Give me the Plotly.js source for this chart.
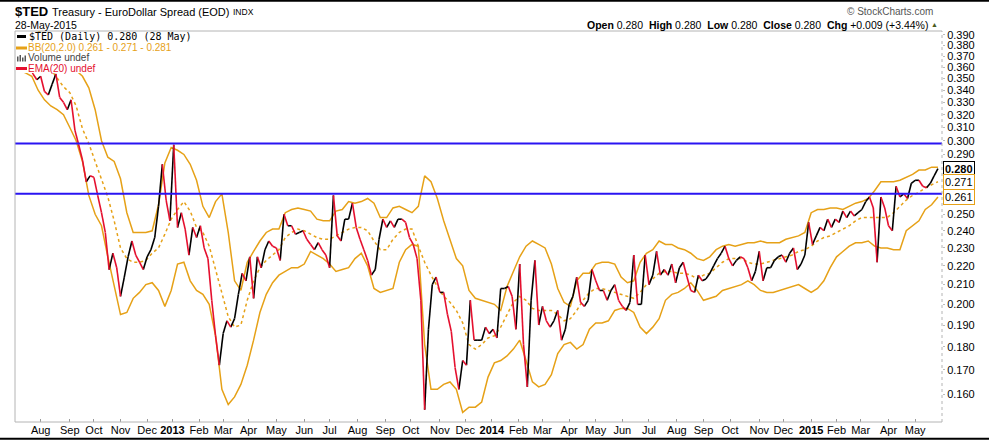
<!DOCTYPE html>
<html><head><meta charset="utf-8">
<script src="https://cdn.plot.ly/plotly-3.0.1.min.js"></script>
<style>html,body{margin:0;padding:0;background:#fff;}#chart{width:989px;height:440px;}</style>
</head><body><div id="chart"></div>
<script>
// ---- calendar (trading days, NYSE holidays) ----
const startDate = '2012-07-05';
const holidays = ['2012-07-04','2012-09-03','2012-10-29','2012-10-30','2012-11-22','2012-12-25',
  '2013-01-01','2013-01-21','2013-02-18','2013-03-29','2013-05-27','2013-07-04','2013-09-02','2013-11-28','2013-12-25',
  '2014-01-01','2014-01-20','2014-02-17','2014-04-18','2014-05-26','2014-07-04','2014-09-01','2014-11-27','2014-12-25',
  '2015-01-01','2015-01-19','2015-02-16','2015-04-03','2015-05-25'];
const tradingDayCount = 728;            // 2012-07-05 .. 2015-05-28
const priceStep = 3, priceOffset = 1;   // price read every 3rd trading day
const bandStep = 5, bandOffset = 2;     // bands read every 5th trading day

// ---- $TED close ----
const price = [
0.359,0.361,0.358,0.361,0.354,0.349,0.352,0.339,0.336,0.345,
0.354,0.334,0.330,0.324,0.332,0.308,0.297,0.286,0.271,0.275,
0.274,0.262,0.251,0.239,0.218,0.227,0.219,0.204,0.214,0.225,
0.234,0.226,0.222,0.218,0.225,0.229,0.236,0.255,0.283,0.259,
0.246,0.297,0.242,0.251,0.241,0.226,0.242,0.236,0.243,0.230,
0.224,0.202,0.185,0.172,0.186,0.192,0.189,0.193,0.205,0.216,
0.212,0.225,0.203,0.225,0.219,0.229,0.234,0.231,0.230,0.223,
0.250,0.243,0.243,0.238,0.239,0.240,0.235,0.232,0.229,0.233,
0.229,0.226,0.219,0.262,0.237,0.234,0.247,0.247,0.257,0.242,
0.235,0.229,0.223,0.215,0.218,0.235,0.247,0.242,0.246,0.242,
0.247,0.247,0.245,0.236,0.232,0.224,0.202,0.154,0.188,0.210,
0.214,0.206,0.206,0.195,0.187,0.171,0.162,0.174,0.172,0.202,
0.183,0.183,0.183,0.189,0.186,0.188,0.184,0.208,0.208,0.209,
0.204,0.188,0.221,0.181,0.163,0.202,0.223,0.190,0.199,0.192,
0.189,0.192,0.197,0.183,0.188,0.200,0.204,0.214,0.201,0.199,
0.202,0.218,0.212,0.207,0.207,0.202,0.207,0.210,0.202,0.199,
0.197,0.201,0.226,0.200,0.200,0.226,0.210,0.215,0.228,0.215,
0.218,0.215,0.221,0.211,0.219,0.222,0.214,0.207,0.206,0.215,
0.212,0.213,0.216,0.220,0.224,0.227,0.231,0.224,0.220,0.223,
0.225,0.224,0.219,0.212,0.217,0.228,0.212,0.219,0.219,0.223,
0.225,0.226,0.222,0.227,0.230,0.218,0.221,0.226,0.245,0.232,
0.237,0.242,0.240,0.247,0.242,0.247,0.245,0.252,0.248,0.252,
0.249,0.251,0.253,0.258,0.261,0.254,0.222,0.261,0.254,0.243,
0.240,0.268,0.261,0.263,0.260,0.270,0.272,0.272,0.268,0.267,
0.270,0.275,0.280];

// ---- Bollinger Bands BB(20,2.0) ----
const bbUpper = [
0.405,0.402,0.398,0.394,0.390,0.385,0.378,0.370,0.363,0.357,
0.352,0.342,0.324,0.300,0.288,0.285,0.273,0.251,0.239,0.239,
0.239,0.240,0.256,0.284,0.295,0.293,0.290,0.283,0.272,0.255,
0.248,0.258,0.263,0.239,0.212,0.207,0.222,0.228,0.234,0.239,
0.241,0.241,0.251,0.253,0.254,0.253,0.252,0.247,0.246,0.246,
0.252,0.253,0.258,0.257,0.258,0.260,0.257,0.248,0.248,0.254,
0.255,0.253,0.251,0.255,0.275,0.271,0.260,0.246,0.235,0.224,
0.220,0.207,0.203,0.202,0.201,0.200,0.197,0.209,0.217,0.225,
0.231,0.234,0.232,0.230,0.221,0.208,0.201,0.199,0.212,0.216,
0.216,0.221,0.222,0.222,0.221,0.214,0.211,0.212,0.222,0.227,
0.229,0.234,0.232,0.232,0.230,0.229,0.227,0.224,0.223,0.225,
0.229,0.231,0.232,0.231,0.232,0.233,0.233,0.234,0.233,0.233,
0.233,0.235,0.236,0.237,0.239,0.251,0.253,0.253,0.254,0.254,
0.253,0.255,0.257,0.258,0.260,0.265,0.271,0.271,0.271,0.272,
0.274,0.276,0.279,0.279,0.281,0.281];
const bbMiddle = [
0.385,0.381,0.376,0.370,0.365,0.358,0.350,0.343,0.338,0.327,
0.309,0.298,0.285,0.272,0.261,0.246,0.230,0.224,0.222,0.222,
0.223,0.227,0.230,0.238,0.247,0.253,0.258,0.252,0.242,0.239,
0.231,0.218,0.205,0.194,0.189,0.190,0.202,0.212,0.219,0.223,
0.226,0.229,0.236,0.239,0.241,0.240,0.238,0.236,0.235,0.235,
0.237,0.239,0.241,0.242,0.242,0.240,0.234,0.229,0.229,0.235,
0.239,0.241,0.241,0.231,0.222,0.215,0.209,0.204,0.201,0.197,
0.191,0.181,0.179,0.181,0.184,0.185,0.189,0.195,0.201,0.204,
0.202,0.198,0.197,0.197,0.197,0.195,0.192,0.193,0.197,0.202,
0.206,0.208,0.208,0.207,0.206,0.205,0.204,0.203,0.206,0.210,
0.213,0.216,0.217,0.217,0.216,0.216,0.215,0.213,0.215,0.216,
0.219,0.222,0.224,0.224,0.224,0.222,0.221,0.221,0.222,0.223,
0.224,0.225,0.226,0.228,0.229,0.231,0.234,0.236,0.237,0.239,
0.241,0.243,0.246,0.248,0.248,0.248,0.248,0.248,0.251,0.255,
0.259,0.262,0.264,0.267,0.269,0.271];
const bbLower = [
0.357,0.355,0.352,0.340,0.332,0.327,0.324,0.320,0.310,0.300,
0.285,0.262,0.250,0.243,0.225,0.209,0.195,0.196,0.203,0.206,
0.210,0.211,0.207,0.199,0.207,0.221,0.222,0.212,0.207,0.205,
0.200,0.185,0.162,0.156,0.159,0.164,0.172,0.183,0.196,0.205,
0.211,0.215,0.217,0.219,0.219,0.221,0.228,0.226,0.224,0.221,
0.217,0.218,0.219,0.224,0.227,0.220,0.208,0.206,0.207,0.208,
0.222,0.229,0.232,0.231,0.181,0.162,0.162,0.164,0.165,0.162,
0.153,0.155,0.155,0.157,0.167,0.173,0.174,0.176,0.179,0.183,
0.174,0.165,0.163,0.164,0.168,0.177,0.181,0.182,0.179,0.181,
0.188,0.191,0.191,0.192,0.197,0.198,0.198,0.196,0.189,0.186,
0.189,0.193,0.202,0.205,0.206,0.208,0.211,0.207,0.202,0.203,
0.204,0.207,0.208,0.209,0.210,0.212,0.210,0.207,0.206,0.206,
0.207,0.208,0.209,0.210,0.208,0.206,0.208,0.212,0.219,0.225,
0.228,0.231,0.233,0.233,0.234,0.231,0.230,0.230,0.229,0.229,
0.240,0.243,0.246,0.253,0.256,0.261];

// ---- horizontal reference levels ----
const levels = [0.298, 0.263];

// ---- axis labels ----
const yTicks = [0.160,0.170,0.180,0.190,0.200,0.210,0.220,0.230,0.240,0.250,0.290,0.300,0.310,0.320,0.330,0.340,0.350,0.360,0.370,0.380,0.390];
const monthLabels = ['Aug','Sep','Oct','Nov','Dec','2013','Feb','Mar','Apr','May','Jun','Jul','Aug','Sep','Oct','Nov','Dec',
  '2014','Feb','Mar','Apr','May','Jun','Jul','Aug','Sep','Oct','Nov','Dec','2015','Feb','Mar','Apr','May'];
const lastLabels = [{v:0.280, t:'0.280', c:'#000000', bold:true},{v:0.271, t:'0.271', c:'#e6a117'},{v:0.261, t:'0.261', c:'#e6a117'}];

// ---- colours ----
const C_UP = '#000000', C_DN = '#e5102f', C_BB = '#e6a117', C_LVL = '#2a14f2';
const FONT = 'Liberation Sans, Arial, sans-serif';

function tradingDays(start, count){
  const d = new Date(start + 'T00:00:00Z'); const out = [];
  while(out.length < count){
    const dow = d.getUTCDay(); const s = d.toISOString().slice(0,10);
    if(dow !== 0 && dow !== 6 && holidays.indexOf(s) < 0) out.push(s);
    d.setUTCDate(d.getUTCDate() + 1);
  }
  return out;
}
const days = tradingDays(startDate, tradingDayCount);
const pX = price.map((_, k) => days[priceOffset + priceStep*k]);
const bX = bbUpper.map((_, k) => days[bandOffset + bandStep*k]);

// price coloured by direction
const upX=[], upY=[], dnX=[], dnY=[];
for(let k=0;k<price.length-1;k++){
  const down = price[k+1] < price[k];
  (down?dnX:upX).push(pX[k], pX[k+1], null);
  (down?dnY:upY).push(price[k], price[k+1], null);
}

// month ticks at first trading day of each month (from Aug 2012)
const tickVals = [];
for(let i=1;i<days.length;i++){ if(days[i].slice(0,7) !== days[i-1].slice(0,7)) tickVals.push(days[i]); }
const tickText = monthLabels.map(l => /^\d+$/.test(l) ? '<b>'+l+'</b>' : l);

const xRange = ['2012-07-02 18:00', '2015-06-02 05:00'];

const traces = [
  {x:bX, y:bbUpper, mode:'lines', line:{color:C_BB, width:1.5}, hoverinfo:'skip'},
  {x:bX, y:bbLower, mode:'lines', line:{color:C_BB, width:1.5}, hoverinfo:'skip'},
  {x:bX, y:bbMiddle, mode:'lines', line:{color:C_BB, width:1.5, dash:'dot'}, hoverinfo:'skip'},
  {x:upX, y:upY, mode:'lines', line:{color:C_UP, width:1.6}, connectgaps:false, hoverinfo:'skip'},
  {x:dnX, y:dnY, mode:'lines', line:{color:C_DN, width:1.6}, connectgaps:false, hoverinfo:'skip'}
];
levels.forEach(v => traces.push({x:xRange, y:[v,v], mode:'lines', line:{color:C_LVL, width:2}, hoverinfo:'skip'}));

const L=15, T=31, PW=927, PH=391;
const fx = X => (X - L)/PW;
const fy = Y => (T + PH - Y)/PH;

const shapes = [
  // legend background
  {type:'rect', xref:'paper', yref:'paper', x0:fx(16), x1:fx(192), y0:fy(73), y1:fy(32), fillcolor:'#ffffff', line:{width:0}, layer:'above'},
  // frame
  {type:'line', xref:'paper', yref:'paper', x0:0, x1:0, y0:0, y1:1, line:{color:'#b4b4b4', width:1}},
  {type:'line', xref:'paper', yref:'paper', x0:0, x1:1, y0:1, y1:1, line:{color:'#b4b4b4', width:1}},
  {type:'line', xref:'paper', yref:'paper', x0:0, x1:1, y0:0, y1:0, line:{color:'#b4b4b4', width:1}},
  {type:'line', xref:'paper', yref:'paper', x0:1, x1:1, y0:0, y1:1, line:{color:'#b4b4b4', width:1, dash:'dot'}},
  // page borders
  {type:'line', xref:'paper', yref:'paper', x0:fx(0), x1:fx(989), y0:fy(0.8), y1:fy(0.8), line:{color:'#000', width:2}},
  {type:'line', xref:'paper', yref:'paper', x0:fx(0), x1:fx(989), y0:fy(438.8), y1:fy(438.8), line:{color:'#000', width:2}},
  // legend markers
  {type:'line', xref:'paper', yref:'paper', x0:fx(17), x1:fx(26), y0:fy(36.5), y1:fy(36.5), line:{color:C_UP, width:3}, layer:'above'},
  {type:'line', xref:'paper', yref:'paper', x0:fx(16), x1:fx(27), y0:fy(48), y1:fy(48), line:{color:C_BB, width:3}, layer:'above'},
  {type:'rect', xref:'paper', yref:'paper', x0:fx(17), x1:fx(18.5), y0:fy(61.5), y1:fy(56.5), fillcolor:'#555', line:{width:0}, layer:'above'},
  {type:'rect', xref:'paper', yref:'paper', x0:fx(19.5), x1:fx(21), y0:fy(61.5), y1:fy(55), fillcolor:'#555', line:{width:0}, layer:'above'},
  {type:'rect', xref:'paper', yref:'paper', x0:fx(22), x1:fx(23.5), y0:fy(61.5), y1:fy(57.5), fillcolor:'#555', line:{width:0}, layer:'above'},
  {type:'rect', xref:'paper', yref:'paper', x0:fx(24.5), x1:fx(26), y0:fy(61.5), y1:fy(55.5), fillcolor:'#555', line:{width:0}, layer:'above'},
  {type:'line', xref:'paper', yref:'paper', x0:fx(16), x1:fx(27), y0:fy(68.5), y1:fy(68.5), line:{color:C_DN, width:3}, layer:'above'}
];

function ann(X, Y, text, size, color, anchor, family, extra){
  return Object.assign({xref:'paper', yref:'paper', x:fx(X), y:fy(Y), text:text, showarrow:false,
    xanchor:anchor||'left', yanchor:'middle', font:{family:family||FONT, size:size, color:color||'#000'}, borderpad:0}, extra||{});
}
const annotations = [
  ann(14, 11, '<b>$TED</b>', 13, '#000'),
  ann(51, 12, 'Treasury - EuroDollar Spread (EOD)', 11, '#000'),
  ann(232, 12.5, 'INDX', 8.5, '#000'),
  ann(14, 25, '28-May-2015', 10.5, '#000'),
  ann(934, 11, '\u00A9 StockCharts.com', 10, '#555', 'right'),
  ann(929, 25, '<b>Open</b> 0.280  <b>High</b> 0.280  <b>Low</b> 0.280  <b>Close</b> 0.280  <b>Chg</b> +0.009 (+3.44%)', 10.5, '#000', 'right'),
  ann(929.5, 24.5, '\u25B2', 7, '#4a5a20'),
  ann(28, 36.5, '$TED (Daily) 0.280 (28 May)', 10, '#000', 'left', 'DejaVu Sans Mono, monospace'),
  ann(27, 47.5, 'BB(20,2.0) 0.261 - 0.271 - 0.281', 10, C_BB),
  ann(27, 58, 'Volume undef', 10, '#444'),
  ann(27, 68.5, 'EMA(20) undef', 10, C_DN)
];
lastLabels.forEach(o => annotations.push({xref:'paper', yref:'y', x:1, y:Math.log10(o.v), xanchor:'left', yanchor:'middle', xshift:1,
  text: o.bold ? '<b>'+o.t+'</b>' : o.t, showarrow:false, bgcolor:'#fff', bordercolor:o.c, borderwidth:1, borderpad:1,
  font:{family:FONT, size:11, color:'#000'}}));

const layout = {
  width:989, height:440, margin:{l:L, r:47, t:T, b:18}, paper_bgcolor:'#fff', plot_bgcolor:'#fff',
  showlegend:false, hovermode:false,
  xaxis:{type:'date', range:xRange, rangebreaks:[{bounds:['sat','mon']},{values:holidays}],
    tickmode:'array', tickvals:tickVals, ticktext:tickText, ticks:'inside', ticklen:3, tickcolor:'#999',
    showgrid:false, zeroline:false, showline:false, tickfont:{family:FONT, size:11, color:'#000'}},
  yaxis:{type:'log', side:'right', range:[Math.log10(0.1494), Math.log10(0.3938)],
    tickmode:'array', tickvals:yTicks, ticktext:yTicks.map(v=>v.toFixed(3)), ticks:'outside', ticklen:2, tickcolor:'#bbb',
    showgrid:false, zeroline:false, showline:false, tickfont:{family:FONT, size:11, color:'#000'}},
  shapes:shapes, annotations:annotations
};
Plotly.newPlot('chart', traces, layout, {staticPlot:true, displayModeBar:false});
</script></body></html>
